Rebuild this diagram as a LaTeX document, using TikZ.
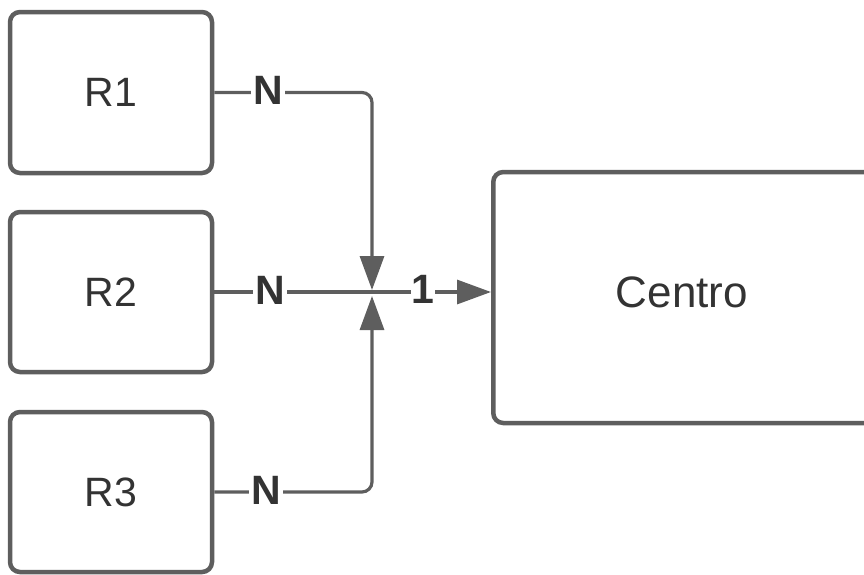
\documentclass[tikz,border=0pt]{standalone}
\usepackage{fontspec}
\setmainfont{Liberation Sans}
\usetikzlibrary{arrows.meta}
\definecolor{ln}{HTML}{5E5E5E}
\definecolor{tx}{HTML}{333333}
\begin{document}
\begin{tikzpicture}[x=1pt,y=-1pt,
  box/.style={draw=ln,line width=4.5pt,rounded corners=10pt,fill=white,text=tx,
    font=\fontsize{41}{41}\selectfont,inner sep=0pt},
  conn/.style={draw=ln,line width=3.2pt,rounded corners=10pt},
  tip/.style={-{Triangle[length=34pt,width=24pt]}},
  lab/.style={fill=white,text=tx,font=\fontsize{41}{41}\selectfont\bfseries,inner sep=2pt}]
\useasboundingbox (0,0) rectangle (864,574);
\node[box,minimum width=202pt,minimum height=161pt] (R1) at (111,92.5) {R1};
\node[box,minimum width=202pt,minimum height=160pt] (R2) at (111,292) {R2};
\node[box,minimum width=202pt,minimum height=160pt] (R3) at (111,492) {R3};
\node[box,minimum width=390pt,minimum height=251pt,anchor=west] (C) at (491,297.5) {};
\node[text=tx,font=\fontsize{44}{44}\selectfont] (Ct) at (682,292) {Centro};
\coordinate (J1) at (372,290);
\coordinate (J3) at (372,296);
\draw[conn,tip] (R1.east) -| (J1);
\draw[conn,tip] (R3.east) -| (J3);
\draw[conn,tip] (R2.east) -- (C.west |- R2.east);
\node[lab] (n1) at (268,90) {N};
\node[lab] (n2) at (270,290) {N};
\node[lab] (n3) at (266,490) {N};
\node[lab,inner sep=1pt] (o1) at (423,289) {1};
\end{tikzpicture}
\end{document}
